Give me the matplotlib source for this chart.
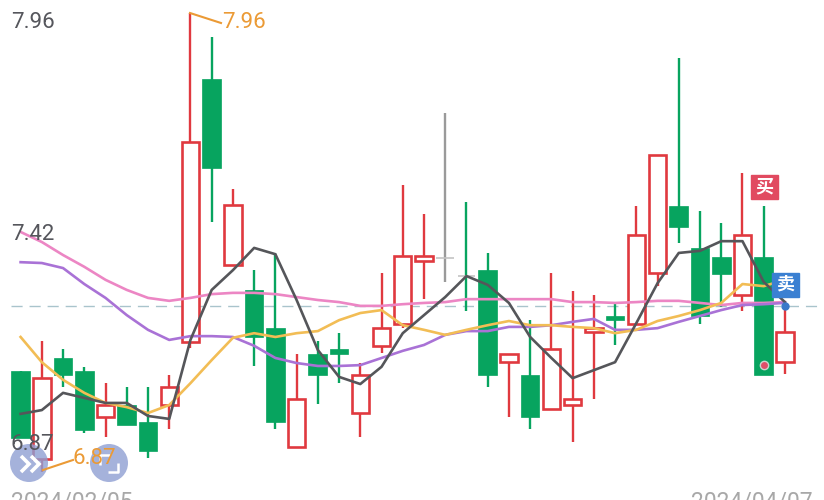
#!/usr/bin/env python
# -*- encoding: utf-8 -*-

import matplotlib
matplotlib.use('Agg')
from matplotlib import pyplot as plt
from matplotlib.patches import Circle, Rectangle
from matplotlib.transforms import Affine2D

plt.rcParams['font.family'] = ['Roboto', 'Noto Sans CJK SC', 'DejaVu Sans']

# 日K数据
open_price = [7.108, 6.899, 7.139, 7.108, 6.999, 7.027, 6.987, 7.027, 7.177, 7.803, 7.360, 7.301, 7.210,
              6.927, 7.148, 7.160, 7.008, 7.168, 7.220, 7.370, 7.377, 7.336, 7.348, 7.129, 7.098, 7.018,
              7.027, 7.201, 7.239, 7.220, 7.341, 7.501, 7.401, 7.379, 7.289, 7.379, 7.129]
high_price = [7.108, 7.179, 7.160, 7.118, 7.079, 7.070, 7.070, 7.098, 7.960, 7.903, 7.541, 7.348, 7.389,
              7.148, 7.179, 7.198, 7.127, 7.341, 7.551, 7.482, 7.722, 7.510, 7.389, 7.148, 7.229, 7.341,
              7.298, 7.289, 7.267, 7.501, 7.622, 7.853, 7.489, 7.460, 7.579, 7.501, 7.260]
low_price = [6.949, 6.868, 7.070, 6.960, 6.951, 6.979, 6.901, 6.970, 7.163, 7.463, 7.360, 7.120, 6.970,
             6.927, 7.029, 7.079, 6.951, 7.151, 7.210, 7.279, 7.320, 7.251, 7.070, 6.999, 6.970, 7.018,
             6.939, 7.041, 7.170, 7.220, 7.310, 7.413, 7.220, 7.260, 7.251, 7.098, 7.101]
close_price = [6.949, 7.091, 7.098, 6.968, 7.027, 6.979, 6.918, 7.070, 7.653, 7.591, 7.503, 7.189, 6.987,
               7.041, 7.098, 7.148, 7.098, 7.210, 7.382, 7.382, 7.379, 7.332, 7.098, 7.148, 6.999, 7.160,
               7.041, 7.210, 7.229, 7.432, 7.622, 7.451, 7.239, 7.339, 7.432, 7.098, 7.201]

# 均线
ma_black = [7.006, 7.015, 7.056, 7.044, 7.032, 7.032, 7.001, 6.994, 7.182, 7.301, 7.348, 7.401, 7.386,
            7.277, 7.158, 7.094, 7.077, 7.118, 7.198, 7.241, 7.284, 7.334, 7.313, 7.270, 7.189, 7.139,
            7.091, 7.110, 7.129, 7.222, 7.317, 7.389, 7.394, 7.417, 7.417, 7.320, 7.272]
ma_orange = [7.189, 7.129, 7.087, 7.056, 7.032, 7.022, 7.008, 7.027, 7.079, 7.134, 7.187, 7.198, 7.189,
             7.198, 7.203, 7.229, 7.246, 7.253, 7.217, 7.206, 7.194, 7.206, 7.217, 7.227, 7.217, 7.217,
             7.213, 7.210, 7.198, 7.206, 7.227, 7.239, 7.253, 7.270, 7.315, 7.310, 7.325]
ma_purple = [7.367, 7.365, 7.353, 7.315, 7.282, 7.241, 7.206, 7.182, 7.191, 7.191, 7.189, 7.168, 7.139,
             7.127, 7.120, 7.120, 7.122, 7.139, 7.156, 7.170, 7.194, 7.203, 7.203, 7.213, 7.213, 7.217,
             7.225, 7.232, 7.206, 7.206, 7.210, 7.225, 7.239, 7.253, 7.265, 7.267, 7.270]
ma_pink = [7.439, 7.415, 7.384, 7.356, 7.325, 7.301, 7.282, 7.275, 7.282, 7.291, 7.294, 7.294, 7.291,
           7.284, 7.277, 7.272, 7.263, 7.263, 7.267, 7.270, 7.272, 7.279, 7.279, 7.279, 7.279, 7.279,
           7.272, 7.272, 7.270, 7.272, 7.275, 7.275, 7.270, 7.265, 7.270, 7.270, 7.272]

prev_close = 7.263
y_labels = ['7.96', '7.42', '6.87']
date_labels = ['2024/02/05', '2024/04/07']
gray_candle = 20
sell_day = 36
dot_day = 35
dot_price = 7.122

RED = '#e0393f'
GREEN = '#07a45f'
GRAY = '#9a9a9a'
ORANGE = '#eb9a35'
TEXT = '#55565c'

fig = plt.figure(figsize=(8.24, 5), dpi=100)
ax = fig.add_axes([0, 0, 1, 1])
ax.set_xlim(-0.97, 37.84)
ax.set_ylim(6.801, 7.991)
ax.axis('off')

# 像素坐标，只给图标和文字用
px = Affine2D().scale(1 / 824, -1 / 500).translate(0, 1) + ax.transAxes

ax.plot([-0.45, 37.84], [prev_close, prev_close], color='#a9c4cc', lw=1, dashes=(8, 5), zorder=1)

for i in range(len(open_price)):
    o, h, l, c = open_price[i], high_price[i], low_price[i], close_price[i]
    if i == gray_candle:
        col = GRAY
    elif c >= o:
        col = RED
    else:
        col = GREEN
    ax.vlines(i, l, h, color=col, lw=1.7, zorder=2)
    if i == gray_candle or i == gray_candle + 1:
        ax.hlines((o + c) / 2, i - 0.42, i + 0.42, color='#c4c4c4', lw=1.2, zorder=2.1)
        continue
    if c >= o:
        ax.bar(i, c - o, bottom=o, width=0.82, facecolor='white', edgecolor=col, linewidth=1.9, zorder=2.2)
    else:
        ax.bar(i, o - c, bottom=c, width=0.88, facecolor=col, edgecolor=col, linewidth=0.5, zorder=2.2)

x = list(range(len(ma_black)))
ax.plot(x, ma_pink, color='#ec86c4', lw=1.9, zorder=3)
ax.plot(x, ma_purple, color='#a972d6', lw=1.9, zorder=3.1)
ax.plot(x, ma_orange, color='#f2bd55', lw=1.9, zorder=3.2)
ax.plot(x, ma_black, color='#55565a', lw=1.9, zorder=3.3)

# 最新价圆点 / 红点
ax.plot(sell_day, prev_close, 'o', color='#3a78c9', ms=5, zorder=4)
ax.plot(dot_day, dot_price, 'o', mfc='#e0506a', mec='#c9d6cf', mew=1, ms=6, zorder=4)

# 买卖标记
ax.add_patch(Rectangle((751, 175), 27, 24, transform=px, color='#e14a60', zorder=5))
ax.text(764.5, 187, '买', transform=px, color='white', fontsize=13, fontweight='bold', ha='center', va='center', zorder=6)
ax.add_patch(Rectangle((772, 273), 27, 24, transform=px, color='#3a80d2', zorder=5))
ax.text(785.5, 285, '卖', transform=px, color='white', fontsize=13, fontweight='bold', ha='center', va='center', zorder=6)

# 左下角两个按钮
for cx in [29, 109]:
    ax.add_patch(Circle((cx, 463), 19, transform=px, color='#8f9fd3', alpha=0.8, lw=0, zorder=7))
for dx in [0, 10]:
    ax.plot([21 + dx, 29 + dx, 21 + dx], [456, 464, 472], transform=px, color='white', lw=2.6,
            solid_joinstyle='miter', solid_capstyle='butt', zorder=8)
ax.plot([100, 100, 110], [465, 455, 455], transform=px, color='white', lw=1.8, solid_capstyle='butt', zorder=8)
ax.plot([108, 118, 118], [472, 472, 463], transform=px, color='white', lw=1.8, solid_capstyle='butt', zorder=8)

# 最高 最低价标注
ax.plot([190, 221], [13, 23], transform=px, color=ORANGE, lw=1.5, zorder=5)
ax.text(222, 22, y_labels[0], transform=px, color=ORANGE, fontsize=16, ha='left', va='center', zorder=9)
ax.plot([43, 73], [470, 460], transform=px, color=ORANGE, lw=1.5, zorder=9)
ax.text(73, 459, y_labels[2], transform=px, color=ORANGE, fontsize=16, ha='left', va='center', zorder=9)

# y轴文字
ax.text(11, 22, y_labels[0], transform=px, color=TEXT, fontsize=16, ha='left', va='center', zorder=9)
ax.text(11, 234, y_labels[1], transform=px, color=TEXT, fontsize=16, ha='left', va='center', zorder=9)
ax.text(11, 445, y_labels[2], transform=px, color=TEXT, fontsize=16, ha='left', va='center', zorder=9)

# 日期，底部被截掉一半
ax.text(11, 491, date_labels[0], transform=px, color='#a8a8a8', fontsize=16.5, ha='left', va='top', zorder=9)
ax.text(813, 491, date_labels[1], transform=px, color='#a8a8a8', fontsize=16.5, ha='right', va='top', zorder=9)

plt.savefig('out.png', dpi=100)
